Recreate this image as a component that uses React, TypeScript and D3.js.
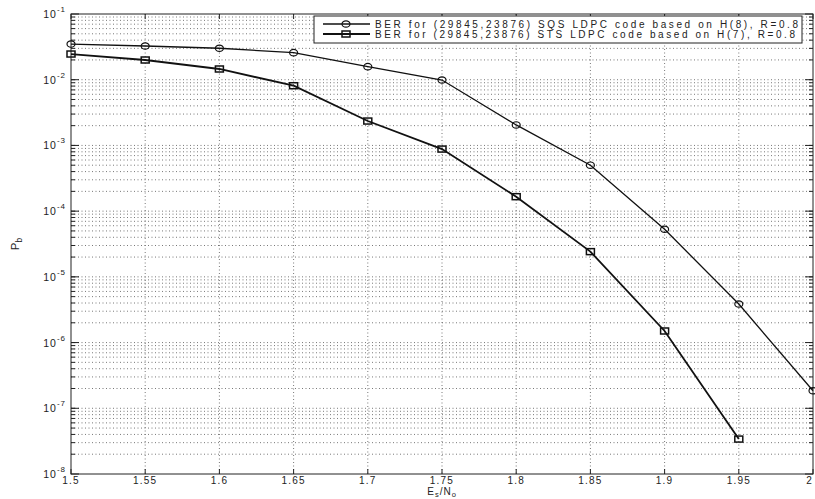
import React, { useEffect, useRef } from "react";
import * as d3 from "d3";

// Es/No values (x axis)
const snr = [1.5, 1.55, 1.6, 1.65, 1.7, 1.75, 1.8, 1.85, 1.9, 1.95, 2.0];
// BER for SQS LDPC code (circles)
const sqsBer = [0.0349, 0.0326, 0.0301, 0.0258, 0.0158, 0.0099, 0.00205, 5.0e-4, 5.3e-5, 3.86e-6, 1.85e-7];
// BER for STS LDPC code (squares)
const stsSnr = [1.5, 1.55, 1.6, 1.65, 1.7, 1.75, 1.8, 1.85, 1.9, 1.95];
const stsBer = [0.0246, 0.01995, 0.01456, 0.0081, 0.00235, 8.8e-4, 1.66e-4, 2.42e-5, 1.5e-6, 3.4e-8];

const xTickLabels = ["1.5", "1.55", "1.6", "1.65", "1.7", "1.75", "1.8", "1.85", "1.9", "1.95", "2"];
const decades = [-1, -2, -3, -4, -5, -6, -7, -8];
const legendLabels = [
  "BER for (29845,23876) SQS LDPC code based on H(8), R=0.8",
  "BER for (29845,23876) STS LDPC code based on H(7), R=0.8",
];

const W = 815;
const H = 499;
const margin = { top: 14, right: 2, bottom: 25, left: 71 };
const font = "'Liberation Sans', Arial, sans-serif";

export default function App() {
  const ref = useRef<SVGSVGElement | null>(null);

  useEffect(() => {
    const svg = d3.select(ref.current);
    svg.selectAll("*").remove();

    const x0 = margin.left;
    const x1 = W - margin.right;
    const y0 = margin.top;
    const y1 = H - margin.bottom;

    const x = d3.scaleLinear().domain([1.5, 2]).range([x0, x1]);
    const y = d3.scaleLog().domain([1e-8, 1e-1]).range([y1, y0]);

    svg.append("rect").attr("width", W).attr("height", H).attr("fill", "#fff");

    const grid = svg.append("g").attr("stroke", "#555").attr("stroke-width", 0.8).attr("stroke-dasharray", "1,2.5");

    // vertical grid
    snr.slice(1, -1).forEach((v) => {
      grid.append("line").attr("x1", x(v)).attr("x2", x(v)).attr("y1", y0).attr("y2", y1);
    });

    // horizontal grid: decades and minors
    const yGridVals: number[] = [];
    decades.forEach((d) => {
      for (let m = 1; m <= 9; m++) {
        const v = m * Math.pow(10, d);
        if (v < 1e-1 && v > 1e-8) yGridVals.push(v);
      }
    });
    yGridVals.forEach((v) => {
      grid.append("line").attr("x1", x0).attr("x2", x1).attr("y1", y(v)).attr("y2", y(v));
    });

    // axes box and ticks
    const axes = svg.append("g").attr("stroke", "#222").attr("stroke-width", 1);
    axes.append("rect").attr("x", x0).attr("y", y0).attr("width", x1 - x0).attr("height", y1 - y0).attr("fill", "none");
    snr.forEach((v) => {
      axes.append("line").attr("x1", x(v)).attr("x2", x(v)).attr("y1", y1).attr("y2", y1 - 5);
      axes.append("line").attr("x1", x(v)).attr("x2", x(v)).attr("y1", y0).attr("y2", y0 + 5);
    });
    decades.forEach((d) => {
      const v = Math.pow(10, d);
      axes.append("line").attr("x1", x0).attr("x2", x0 + 8).attr("y1", y(v)).attr("y2", y(v));
      axes.append("line").attr("x1", x1).attr("x2", x1 - 8).attr("y1", y(v)).attr("y2", y(v));
    });
    yGridVals.forEach((v) => {
      axes.append("line").attr("x1", x0).attr("x2", x0 + 4).attr("y1", y(v)).attr("y2", y(v));
      axes.append("line").attr("x1", x1).attr("x2", x1 - 4).attr("y1", y(v)).attr("y2", y(v));
    });

    // x tick labels
    const labels = svg.append("g").attr("font-family", font).attr("font-size", 10.5).attr("fill", "#222");
    snr.forEach((v, i) => {
      labels.append("text")
        .attr("x", x(v))
        .attr("y", y1 + 10)
        .attr("font-size", 10)
        .attr("text-anchor", i === snr.length - 1 ? "end" : "middle")
        .attr("letter-spacing", 1.2)
        .text(xTickLabels[i]);
    });

    // y tick labels
    decades.forEach((d) => {
      const t = labels.append("text")
        .attr("x", x0 - 5)
        .attr("y", y(Math.pow(10, d)) + 4)
        .attr("text-anchor", "end")
        .attr("letter-spacing", 1);
      t.append("tspan").text("10");
      t.append("tspan").attr("dy", -6).attr("font-size", 8).text(String(d));
    });

    // axis labels
    const xl = labels.append("text").attr("x", (x0 + x1) / 2).attr("y", H - 4).attr("font-size", 10).attr("text-anchor", "middle").attr("letter-spacing", 1);
    xl.append("tspan").text("E");
    xl.append("tspan").attr("dy", 2).attr("font-size", 7.5).text("s");
    xl.append("tspan").attr("dy", -2).text("/N");
    xl.append("tspan").attr("dy", 2).attr("font-size", 7.5).text("o");

    const yl = labels.append("text").attr("transform", `translate(19,${(y0 + y1) / 2}) rotate(-90)`).attr("text-anchor", "middle").attr("font-size", 11.5);
    yl.append("tspan").text("P");
    yl.append("tspan").attr("dy", 3).attr("font-size", 8.5).text("b");

    // series
    const line = d3.line<[number, number]>().x((d) => x(d[0])).y((d) => y(d[1]));
    const sqs: [number, number][] = snr.map((v, i) => [v, sqsBer[i]]);
    const sts: [number, number][] = stsSnr.map((v, i) => [v, stsBer[i]]);

    svg.append("path").attr("d", line(sqs)).attr("fill", "none").attr("stroke", "#111").attr("stroke-width", 1.3);
    svg.append("path").attr("d", line(sts)).attr("fill", "none").attr("stroke", "#111").attr("stroke-width", 1.8);

    svg.append("g").selectAll("ellipse").data(sqs).enter().append("ellipse")
      .attr("cx", (d) => x(d[0])).attr("cy", (d) => y(d[1]))
      .attr("rx", 4).attr("ry", 3.2)
      .attr("fill", "none").attr("stroke", "#111").attr("stroke-width", 1.2);
    svg.append("g").selectAll("rect").data(sts).enter().append("rect")
      .attr("x", (d) => x(d[0]) - 4).attr("y", (d) => y(d[1]) - 3)
      .attr("width", 8).attr("height", 6)
      .attr("fill", "none").attr("stroke", "#111").attr("stroke-width", 1.5);

    // legend
    const lg = svg.append("g");
    lg.append("rect").attr("x", 314).attr("y", 16).attr("width", 488).attr("height", 27)
      .attr("fill", "#fff").attr("stroke", "#222").attr("stroke-width", 1);
    legendLabels.forEach((lab, i) => {
      const cy = 24 + i * 10;
      lg.append("line").attr("x1", 323).attr("x2", 370).attr("y1", cy).attr("y2", cy)
        .attr("stroke", "#111").attr("stroke-width", i === 0 ? 1.3 : 1.8);
      if (i === 0) {
        lg.append("ellipse").attr("cx", 346).attr("cy", cy).attr("rx", 4).attr("ry", 3.2)
          .attr("fill", "none").attr("stroke", "#111").attr("stroke-width", 1.2);
      } else {
        lg.append("rect").attr("x", 342).attr("y", cy - 3).attr("width", 8).attr("height", 6)
          .attr("fill", "none").attr("stroke", "#111").attr("stroke-width", 1.5);
      }
      lg.append("text").attr("x", 375).attr("y", cy + 3.5)
        .attr("font-family", font).attr("font-size", 10).attr("fill", "#222")
        .attr("textLength", i === 0 ? 423 : 420).attr("lengthAdjust", "spacing")
        .text(lab);
    });
  }, []);

  return (
    <div style={{ position: "absolute", left: 0, top: 0 }}>
      <svg ref={ref} width={W} height={H} style={{ display: "block" }} />
    </div>
  );
}
